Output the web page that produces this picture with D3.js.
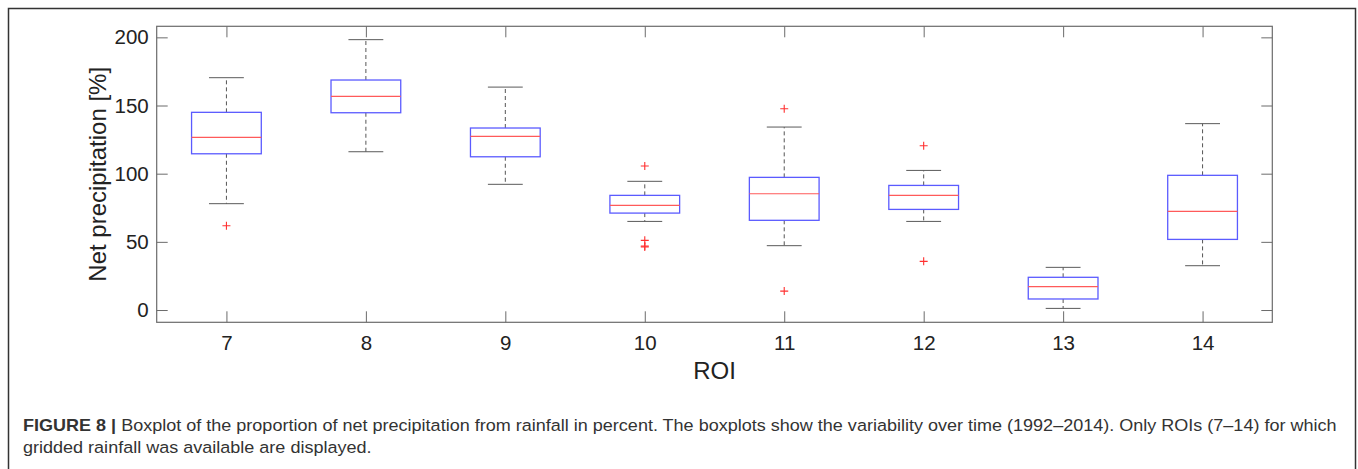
<!DOCTYPE html>
<html>
<head>
<meta charset="utf-8">
<script src="https://cdn.jsdelivr.net/npm/d3@7"></script>
<style>
  body { margin: 0; background: #fff; }
  svg { display: block; font-family: "Liberation Sans", Arial, Helvetica, sans-serif; }
</style>
</head>
<body>
<svg width="1358" height="469"></svg>
<script>
// boxplot stats, one entry per ROI
var roi = [7, 8, 9, 10, 11, 12, 13, 14];
var whiskerLo = [78.0, 116.1, 92.2, 65.0, 47.2, 65.0, 1.2, 32.5];
var q1 = [114.6, 144.7, 112.4, 71.1, 65.8, 73.8, 8.1, 51.8];
var median = [126.6, 156.7, 127.4, 76.8, 85.3, 84.1, 17.1, 72.4];
var q3 = [145.0, 168.7, 133.5, 84.1, 97.3, 91.4, 24.0, 98.8];
var whiskerHi = [170.4, 198.3, 163.5, 94.4, 134.2, 102.4, 31.3, 136.7];
var outliers = [[61.8], [], [], [105.6, 51.1, 46.9, 46.2], [147.6, 13.9], [120.5, 35.7], [], []];
var yTicks = [0, 50, 100, 150, 200];

var svg = d3.select("svg"),
    plot = { left: 156.7, top: 26.3, right: 1272.3, bottom: 322.3 };

var x = d3.scaleLinear().domain([6.5, 14.5]).range([plot.left, plot.right]);
var y = d3.scaleLinear().domain([-9, 208.1]).range([plot.bottom, plot.top]);

var axisColor = "#6b6b6b";

// outer figure frame
svg.append("rect")
  .attr("x", 8.5).attr("y", 8.5)
  .attr("width", 1347).attr("height", 480)
  .attr("fill", "none").attr("stroke", "#333").attr("stroke-width", 1.5);

var g = svg.append("g");

// axes, ticks pointing inwards on all four sides
g.append("g").attr("transform", "translate(0," + plot.bottom + ")")
  .call(d3.axisBottom(x).tickValues(roi).tickSize(-11).tickPadding(13).tickFormat(d3.format("d")));
g.append("g").attr("transform", "translate(0," + plot.top + ")")
  .call(d3.axisTop(x).tickValues(roi).tickSize(-11).tickFormat(""));
g.append("g").attr("transform", "translate(" + plot.left + ",0)")
  .call(d3.axisLeft(y).tickValues(yTicks).tickSize(-11).tickPadding(8));
g.append("g").attr("transform", "translate(" + plot.right + ",0)")
  .call(d3.axisRight(y).tickValues(yTicks).tickSize(-11).tickFormat(""));

g.selectAll(".domain").remove();
g.selectAll(".tick line").attr("stroke", axisColor);
g.selectAll(".tick text").attr("fill", "#222").style("font-size", "20.5px")
  .style("font-family", "'Liberation Sans', Arial, sans-serif");

g.append("rect")
  .attr("x", plot.left).attr("y", plot.top)
  .attr("width", plot.right - plot.left).attr("height", plot.bottom - plot.top)
  .attr("fill", "none").attr("stroke", axisColor).attr("stroke-width", 1.2);

// boxes
var boxW = 0.5, capW = 0.25;
var boxes = g.selectAll(".box").data(roi.map(function(r, i) {
    return { roi: r, lo: whiskerLo[i], q1: q1[i], med: median[i], q3: q3[i], hi: whiskerHi[i], out: outliers[i] };
  }))
  .enter().append("g").attr("class", "box");

boxes.append("line").attr("class", "whisk")
  .attr("x1", function(d) { return x(d.roi); }).attr("x2", function(d) { return x(d.roi); })
  .attr("y1", function(d) { return y(d.q3); }).attr("y2", function(d) { return y(d.hi); });
boxes.append("line").attr("class", "whisk")
  .attr("x1", function(d) { return x(d.roi); }).attr("x2", function(d) { return x(d.roi); })
  .attr("y1", function(d) { return y(d.q1); }).attr("y2", function(d) { return y(d.lo); });
boxes.selectAll(".whisk").attr("stroke", "#555").attr("stroke-dasharray", "4,3");

["hi", "lo"].forEach(function(k) {
  boxes.append("line")
    .attr("x1", function(d) { return x(d.roi - capW / 2); }).attr("x2", function(d) { return x(d.roi + capW / 2); })
    .attr("y1", function(d) { return y(d[k]); }).attr("y2", function(d) { return y(d[k]); })
    .attr("stroke", "#5a5a5a");
});

boxes.append("rect")
  .attr("x", function(d) { return x(d.roi - boxW / 2); })
  .attr("width", x(boxW) - x(0))
  .attr("y", function(d) { return y(d.q3); })
  .attr("height", function(d) { return y(d.q1) - y(d.q3); })
  .attr("fill", "none").attr("stroke", "#5b5bff").attr("stroke-width", 1.3);

boxes.append("line")
  .attr("x1", function(d) { return x(d.roi - boxW / 2); }).attr("x2", function(d) { return x(d.roi + boxW / 2); })
  .attr("y1", function(d) { return y(d.med); }).attr("y2", function(d) { return y(d.med); })
  .attr("stroke", "#ff5a5a").attr("stroke-width", 1.2);

// outliers as red plus signs
boxes.selectAll(".out").data(function(d) { return d.out.map(function(v) { return { roi: d.roi, v: v }; }); })
  .enter().append("path").attr("class", "out")
  .attr("d", function(d) {
    var cx = x(d.roi), cy = y(d.v);
    return "M" + (cx - 4) + "," + cy + "H" + (cx + 4) + "M" + cx + "," + (cy - 4) + "V" + (cy + 4);
  })
  .attr("stroke", "#ff3030").attr("stroke-width", 1.1).attr("fill", "none");

// axis labels
svg.append("text")
  .attr("transform", "translate(105.7," + ((plot.top + plot.bottom) / 2) + ") rotate(-90)")
  .attr("text-anchor", "middle").attr("fill", "#222").style("font-size", "24px")
  .text("Net precipitation [%]");
svg.append("text")
  .attr("x", (plot.left + plot.right) / 2).attr("y", 379)
  .attr("text-anchor", "middle").attr("fill", "#222").style("font-size", "24px")
  .text("ROI");

// caption, squeezed horizontally to the width of the original condensed face
var cap = svg.append("g").attr("transform", "translate(23,0)");
var line1 = cap.append("text").attr("y", 431).attr("fill", "#333").style("font-size", "16.5px");
line1.append("tspan").style("font-weight", "bold").text("FIGURE 8 | ");
line1.append("tspan").text("Boxplot of the proportion of net precipitation from rainfall in percent. The boxplots show the variability over time (1992\u20132014). Only ROIs (7\u201314) for which");
var line2 = cap.append("text").attr("y", 453).attr("fill", "#333").style("font-size", "16.5px")
  .text("gridded rainfall was available are displayed.");
var sx = 1315 / line1.node().getComputedTextLength();
line1.attr("transform", "scale(" + sx + ",1)");
line2.attr("transform", "scale(" + sx + ",1)");
</script>
</body>
</html>
